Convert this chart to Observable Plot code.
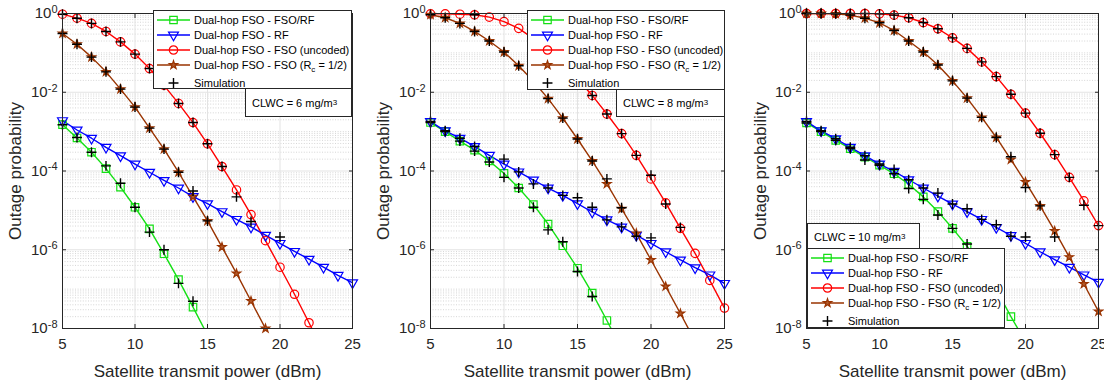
<!DOCTYPE html>
<html><head><meta charset="utf-8">
<script src="https://cdn.jsdelivr.net/npm/d3@7"></script>
<script src="https://cdn.jsdelivr.net/npm/@observablehq/plot@0.6"></script>
<style>
body{margin:0;background:#fff;}
#wrap{position:relative;width:1104px;height:385px;overflow:hidden;font-family:"Liberation Sans",Arial,Helvetica,sans-serif;background:#fff;}
.panel{position:absolute;top:0;}
.legend{position:absolute;background:#fff;border:1px solid #262626;box-sizing:border-box;font-size:11px;color:#000;}
.row{position:absolute;left:0;height:14px;display:flex;align-items:center;white-space:nowrap;}
.row svg{flex:none;}
.note{position:absolute;background:#fff;border:1px solid #262626;box-sizing:border-box;font-size:11px;color:#000;display:flex;align-items:center;padding-left:6px;white-space:nowrap;}
sub,sup{font-size:8px;line-height:0;}
</style></head>
<body><div id="wrap"></div>
<script>
// ---------------- data ----------------
const power = [5,6,7,8,9,10,11,12,13,14,15,16,17,18,19,20,21,22,23,24,25];
const xTicks = [5,10,15,20,25];
const yTicks = [1e0,1e-2,1e-4,1e-6,1e-8];

const seriesLabels = ["Dual-hop FSO - FSO/RF","Dual-hop FSO - RF","Dual-hop FSO - FSO (uncoded)","Dual-hop FSO - FSO (R<sub>c</sub> = 1/2)","Simulation"];
const clwcLabels = ["6","8","10"];

// CLWC = 6 mg/m^3
const c6_fsoRf   = [1.5e-3,6.9e-4,3.0e-4,1.15e-4,3.9e-5,1.2e-5,3.4e-6,7.9e-7,1.74e-7,3.5e-8,6.8e-9];
const c6_rf      = [1.9e-3,1.1e-3,6.8e-4,4.0e-4,2.45e-4,1.5e-4,9.3e-5,5.75e-5,3.7e-5,2.24e-5,1.48e-5,9.3e-6,5.9e-6,3.8e-6,2.34e-6,1.45e-6,9.1e-7,5.75e-7,3.6e-7,2.24e-7,1.45e-7];
const c6_uncoded = [0.96,0.76,0.56,0.35,0.19,0.093,0.040,0.015,5.2e-3,1.7e-3,4.9e-4,1.3e-4,3.3e-5,7.8e-6,1.7e-6,3.6e-7,7.4e-8,1.4e-8,2.5e-9];
const c6_coded   = [0.31,0.166,0.078,0.033,0.012,4.2e-3,1.23e-3,3.6e-4,9.3e-5,2.24e-5,5.4e-6,1.17e-6,2.5e-7,5.0e-8,1.0e-8,2.0e-9];
const c6_simFsoRf   = [1.5e-3,7.1e-4,3.0e-4,1.35e-4,4.9e-5,1.2e-5,2.8e-6,1.0e-6,1.4e-7,4.9e-8];
const c6_simRf      = [null,null,null,null,null,null,null,null,null,null,null,null,null,null,null,2.1e-6];
const c6_simUncoded = [0.96,0.76,0.56,0.35,0.19,0.093,0.040,0.015,5.2e-3,1.7e-3,4.9e-4,1.3e-4,2.2e-5,5.2e-6];
const c6_simCoded   = [0.31,0.166,0.078,0.033,0.012,4.2e-3,1.23e-3,3.6e-4,9.3e-5,3.1e-5,5.4e-6];

// CLWC = 8 mg/m^3
const c8_fsoRf   = [1.7e-3,1.0e-3,5.75e-4,3.4e-4,1.8e-4,8.7e-5,3.7e-5,1.4e-5,4.5e-6,1.26e-6,3.4e-7,7.9e-8,1.6e-8,3.0e-9];
const c8_rf      = [1.8e-3,1.05e-3,6.8e-4,4.2e-4,2.5e-4,1.5e-4,9.5e-5,5.9e-5,3.7e-5,2.4e-5,1.48e-5,9.1e-6,5.75e-6,3.8e-6,2.34e-6,1.45e-6,8.9e-7,5.5e-7,3.5e-7,2.3e-7,1.4e-7];
const c8_uncoded = [0.98,0.98,0.96,0.93,0.81,0.62,0.42,0.23,0.12,0.055,0.022,8.3e-3,2.8e-3,8.9e-4,2.5e-4,6.3e-5,1.55e-5,3.5e-6,8.1e-7,1.66e-7,3.3e-8];
const c8_coded   = [0.93,0.78,0.56,0.35,0.20,0.105,0.047,0.019,6.9e-3,2.2e-3,6.5e-4,1.8e-4,4.7e-5,1.1e-5,2.6e-6,5.5e-7,1.17e-7,2.4e-8,4.8e-9];
const c8_simFsoRf   = [1.7e-3,1.0e-3,5.75e-4,3.2e-4,1.7e-4,6.9e-5,3.7e-5,1.2e-5,3.2e-6,1.6e-6,2.8e-7,6.5e-8];
const c8_simRf      = [1.8e-3,1.05e-3,6.8e-4,4.2e-4,null,2.0e-4,9.5e-5,4.7e-5,3.7e-5,2.4e-5,2.1e-5,1.2e-5,5.75e-6,3.8e-6,null,2.0e-6];
const c8_simUncoded = [null,null,null,0.93,null,null,null,null,null,null,null,8.3e-3,2.8e-3,8.9e-4,2.5e-4,7.8e-5,1.45e-5,3.7e-6];
const c8_simCoded   = [0.93,0.78,0.56,0.35,0.20,0.105,0.047,0.019,6.9e-3,2.2e-3,6.5e-4,1.8e-4,6.3e-5,1.17e-5,2.2e-6];

// CLWC = 10 mg/m^3
const c10_fsoRf   = [1.66e-3,1.0e-3,6.0e-4,3.7e-4,2.24e-4,1.4e-4,8.5e-5,4.6e-5,2.2e-5,9.3e-6,3.5e-6,1.23e-6,3.8e-7,9.8e-8,2.0e-8,4.6e-9];
const c10_rf      = [1.8e-3,1.05e-3,6.6e-4,4.0e-4,2.45e-4,1.5e-4,9.8e-5,6.0e-5,3.7e-5,2.3e-5,1.45e-5,9.3e-6,5.9e-6,3.7e-6,2.3e-6,1.45e-6,8.9e-7,5.6e-7,3.6e-7,2.3e-7,1.5e-7];
const c10_uncoded = [1,1,1,1,1,0.98,0.91,0.78,0.59,0.41,0.24,0.13,0.059,0.025,8.9e-3,2.95e-3,9.1e-4,2.6e-4,6.9e-5,1.74e-5,4.1e-6];
const c10_coded   = [1,1,0.98,0.91,0.76,0.58,0.37,0.20,0.105,0.049,0.0195,7.1e-3,2.3e-3,7.1e-4,1.95e-4,5.25e-5,1.3e-5,3.0e-6,6.5e-7,1.35e-7,2.7e-8];
const c10_simFsoRf   = [1.66e-3,1.0e-3,6.0e-4,3.7e-4,1.9e-4,1.4e-4,8.5e-5,3.6e-5,1.9e-5,7.6e-6,3.5e-6,1.4e-6];
const c10_simRf      = [1.8e-3,1.05e-3,6.6e-4,4.0e-4,2.45e-4,1.5e-4,1.1e-4,6.0e-5,3.7e-5,2.75e-5,1.45e-5,1.1e-5,5.9e-6,4.3e-6,2.2e-6,2.1e-6];
const c10_simUncoded = [1,1,1,1,1,0.98,0.91,0.78,0.59,0.41,0.24,0.13,0.059,0.025,8.9e-3,2.95e-3,9.1e-4,2.6e-4,6.9e-5,1.35e-5,4.1e-6];
const c10_simCoded   = [1,1,0.98,0.91,0.76,0.58,0.37,0.20,0.105,0.049,0.0195,7.1e-3,2.3e-3,7.1e-4,2.3e-4,3.8e-5,1.3e-5,2.1e-6];

// ---------------- styles ----------------
const styles = [
  {color:"#14e014", symbol:"square",   d3sym:d3.symbolSquare,   r:4.2, fill:"none", rotate:0},
  {color:"#0000ff", symbol:"triangle", d3sym:d3.symbolTriangle, r:3.7, fill:"none", rotate:180},
  {color:"#ff0000", symbol:"circle",   d3sym:d3.symbolCircle,   r:4.2, fill:"none", rotate:0},
  {color:"#993300", symbol:"star",     d3sym:d3.symbolStar,     r:2.6, fill:"#b35a2a", rotate:0}
];
const simR = 3.3;

const panels = [
  {left:0,   mL:62, mR:16, lblOff:54, curves:[c6_fsoRf,c6_rf,c6_uncoded,c6_coded], sims:[c6_simFsoRf,c6_simRf,c6_simUncoded,c6_simCoded],
   legend:{left:153,top:10,w:199,h:79}, note:{left:245,top:88,w:107,h:29}, clwc:clwcLabels[0]},
  {left:368, mL:62, mR:12, lblOff:54, curves:[c8_fsoRf,c8_rf,c8_uncoded,c8_coded], sims:[c8_simFsoRf,c8_simRf,c8_simUncoded,c8_simCoded],
   legend:{left:527,top:10,w:198,h:80}, note:{left:616,top:89,w:109,h:28}, clwc:clwcLabels[1]},
  {left:736, mL:70, mR:6, lblOff:53, curves:[c10_fsoRf,c10_rf,c10_uncoded,c10_coded], sims:[c10_simFsoRf,c10_simRf,c10_simUncoded,c10_simCoded],
   legend:{left:807,top:248,w:198,h:80}, note:{left:807,top:223,w:113,h:27}, clwc:clwcLabels[2]}
];

// minor log grid positions (axis layout)
const minorY = [];
for (let k = -8; k < 0; k++) for (let m = 1; m < 10; m++) { if (m === 1 && k % 2 === 0) continue; minorY.push(m * Math.pow(10, k)); }

const wrap = document.getElementById("wrap");
const NS = "http://www.w3.org/2000/svg";

panels.forEach(p => {
  const marks = [
    Plot.ruleY(minorY, {stroke:"#c4c4c4", strokeDasharray:"1,1.6", strokeWidth:0.7}),
    Plot.ruleY(yTicks, {stroke:"#e3e3e3", strokeWidth:1}),
    Plot.ruleX(xTicks, {stroke:"#e3e3e3", strokeWidth:1})
  ];
  p.curves.forEach((vals, si) => {
    const st = styles[si];
    const rows = vals.map((v, i) => ({x: power[i], y: v}));
    marks.push(Plot.line(rows, {x:"x", y:"y", stroke:st.color, strokeWidth:1.4, clip:true}));
  });
  p.curves.forEach((vals, si) => {
    const st = styles[si];
    const rows = vals.map((v, i) => ({x: power[i], y: v})).filter(d => d.y >= 1e-8);
    marks.push(Plot.dot(rows, {x:"x", y:"y", symbol:st.symbol, r:st.r, stroke:st.color, fill:st.fill, strokeWidth:1.2, rotate:st.rotate}));
  });
  p.sims.forEach(vals => {
    const rows = vals.map((v, i) => ({x: power[i], y: v})).filter(d => d.y != null && d.y >= 1e-8);
    marks.push(Plot.dot(rows, {x:"x", y:"y", symbol:"plus", r:simR, stroke:"#000", strokeWidth:1.4}));
  });
  marks.push(Plot.frame({stroke:"#262626", strokeWidth:1}));
  // inward tick marks (MATLAB style)
  marks.push(Plot.axisX(xTicks, {anchor:"bottom", tickSize:-4, tickFormat:() => "", label:null}));
  marks.push(Plot.axisX(xTicks, {anchor:"top", tickSize:-4, tickFormat:() => "", label:null}));
  marks.push(Plot.axisY(yTicks, {anchor:"left", tickSize:-4, tickFormat:() => "", label:null}));
  marks.push(Plot.axisY(yTicks, {anchor:"right", tickSize:-4, tickFormat:() => "", label:null}));
  marks.push(Plot.axisX(xTicks, {anchor:"bottom", tickSize:0, tickPadding:10, fontSize:15, label:"Satellite transmit power (dBm)", labelAnchor:"center", labelArrow:"none", labelOffset:48}));
  marks.push(Plot.axisY(yTicks, {anchor:"left", tickSize:0, tickPadding:5, fontSize:15, tickFormat:d => String(Math.round(Math.log10(d))), label:"Outage probability", labelAnchor:"center", labelArrow:"none", labelOffset:p.lblOff}));

  const svg = Plot.plot({
    width: 368, height: 385,
    marginLeft: p.mL, marginRight: p.mR, marginTop: 13, marginBottom: 57,
    x: {domain:[5,25]},
    y: {type:"log", domain:[1e-8,1]},
    style: {fontFamily:'"Liberation Sans",Arial,Helvetica,sans-serif', color:"#262626", background:"transparent", overflow:"visible"},
    marks
  });
  svg.classList.add("panel");
  svg.style.left = p.left + "px";
  // font sizes set inline on texts
  svg.querySelectorAll('g[aria-label="x-axis tick label"] text, g[aria-label="y-axis tick label"] text').forEach(t => {
    t.style.fontSize = "15px";
  });
  svg.querySelectorAll('g[aria-label="x-axis label"] text, g[aria-label="y-axis label"] text').forEach(t => {
    t.style.fontSize = "17px";
  });
  // superscript exponents on y tick labels
  svg.querySelectorAll('g[aria-label="y-axis tick label"] text').forEach(t => {
    const e = t.textContent;
    if (!e) return;
    t.textContent = "10";
    const ts = document.createElementNS(NS, "tspan");
    ts.setAttribute("dy", "-0.5em");
    ts.style.fontSize = "11px";
    ts.textContent = e;
    t.appendChild(ts);
  });
  wrap.appendChild(svg);

  // note box
  const note = document.createElement("div");
  note.className = "note";
  Object.assign(note.style, {left:p.note.left+"px", top:p.note.top+"px", width:p.note.w+"px", height:p.note.h+"px"});
  note.innerHTML = "CLWC = " + p.clwc + " mg/m<sup>3</sup>";
  wrap.appendChild(note);

  // legend
  const lg = document.createElement("div");
  lg.className = "legend";
  Object.assign(lg.style, {left:p.legend.left+"px", top:p.legend.top+"px", width:p.legend.w+"px", height:p.legend.h+"px"});
  const rowY = [2, 17, 32, 47, 65];
  seriesLabels.forEach((lab, i) => {
    const row = document.createElement("div");
    row.className = "row";
    row.style.top = rowY[i] + "px";
    const s = d3.create("svg").attr("width", 40).attr("height", 14);
    if (i < 4) {
      const st = styles[i];
      s.append("line").attr("x1", 3).attr("x2", 36).attr("y1", 7).attr("y2", 7).attr("stroke", st.color).attr("stroke-width", 1.6);
      s.append("path").attr("d", d3.symbol(st.d3sym, Math.PI * st.r * st.r)())
        .attr("transform", `translate(19.5,7) rotate(${st.rotate})`)
        .attr("stroke", st.color).attr("fill", st.fill).attr("stroke-width", 1.2);
    } else {
      s.append("path").attr("d", d3.symbol(d3.symbolPlus, Math.PI * simR * simR)())
        .attr("transform", "translate(19.5,7)").attr("stroke", "#000").attr("fill", "none").attr("stroke-width", 1.4);
    }
    row.appendChild(s.node());
    const tx = document.createElement("span");
    tx.innerHTML = lab;
    row.appendChild(tx);
    lg.appendChild(row);
  });
  wrap.appendChild(lg);
});
</script>
</body></html>
